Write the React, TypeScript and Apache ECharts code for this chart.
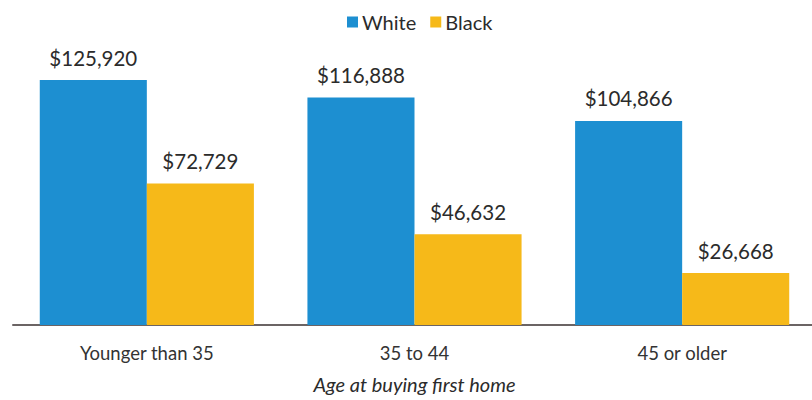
import React, { useEffect, useRef } from "react";
import * as echarts from "echarts";

const categories = ["Younger than 35", "35 to 44", "45 or older"];
const whiteValues = [125920, 116888, 104866];
const blackValues = [72729, 46632, 26668];
const seriesNames = ["White", "Black"];
const axisTitle = "Age at buying first home";

const fmt = (v: number) => "$" + v.toLocaleString("en-US");

export default function App() {
  const ref = useRef<HTMLDivElement>(null);
  useEffect(() => {
    document.body.style.margin = "0";
    const chart = echarts.init(ref.current!, null, { renderer: "svg" });
    const font = "Lato, 'Open Sans', sans-serif";
    const label = {
      show: true,
      position: "top" as const,
      distance: 12,
      color: "#2b2b2b",
      fontSize: 20.5,
      fontFamily: font,
      formatter: (p: any) => fmt(p.value),
    };
    chart.setOption({
      animation: false,
      backgroundColor: "#ffffff",
      legend: {
        top: 7,
        left: 342,
        itemWidth: 11,
        itemHeight: 11,
        itemGap: 14,
        icon: "rect",
        textStyle: { fontSize: 20, fontFamily: font, color: "#2b2b2b", padding: [0, 0, 0, -1] },
        data: seriesNames,
      },
      grid: { left: 13, width: 803, top: 80, bottom: 75, containLabel: false, outerBoundsMode: "none" },
      xAxis: {
        type: "category",
        data: categories,
        axisTick: { show: false },
        axisLine: { lineStyle: { color: "#6b6464", width: 2 } },
        axisLabel: { fontSize: 18.5, fontFamily: font, color: "#333", margin: 18 },
        name: axisTitle,
        nameLocation: "middle",
        nameGap: 49,
        nameTextStyle: { fontSize: 20, fontFamily: font, fontStyle: "italic", color: "#2b2b2b" },
      },
      yAxis: {
        type: "value",
        min: 0,
        max: "dataMax",
        show: false,
        splitLine: { show: false },
      },
      series: [
        {
          name: seriesNames[0],
          type: "bar",
          data: whiteValues,
          barGap: "0%",
          barCategoryGap: "20%",
          itemStyle: { color: "#1d8fd1" },
          label,
        },
        {
          name: seriesNames[1],
          type: "bar",
          data: blackValues,
          barGap: "0%",
          barCategoryGap: "20%",
          itemStyle: { color: "#f6b919" },
          label,
        },
      ],
    });
    return () => chart.dispose();
  }, []);
  return <div ref={ref} style={{ width: 812, height: 400 }} />;
}
